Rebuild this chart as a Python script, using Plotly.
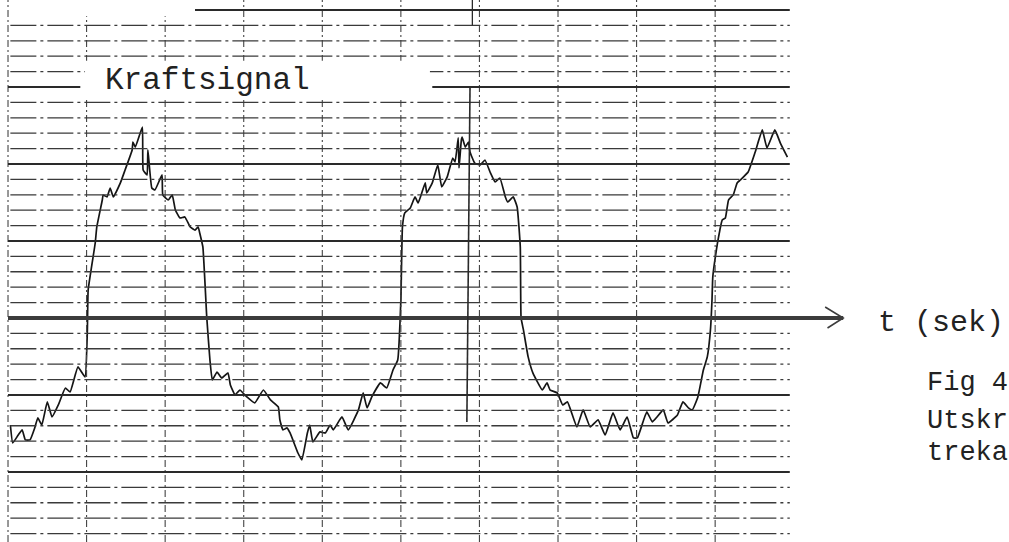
import plotly.graph_objects as go

# Signal trace (t in grid divisions, F in small grid divisions; 0 = time axis)
t_sig = [
    0.03, 0.06, 0.13, 0.18, 0.22, 0.28, 0.34, 0.38, 0.43, 0.50,
    0.56, 0.64, 0.73, 0.79, 0.89, 0.98, 1.01, 1.02, 1.11, 1.13,
    1.20, 1.21, 1.26, 1.30, 1.34, 1.43, 1.49, 1.58, 1.59, 1.62,
    1.71, 1.72, 1.77, 1.78, 1.83, 1.87, 1.96, 1.97, 2.04, 2.09,
    2.13, 2.19, 2.25, 2.32, 2.38, 2.42, 2.44, 2.48, 2.53, 2.57,
    2.60, 2.66, 2.72, 2.80, 2.83, 2.89, 2.95, 3.04, 3.14, 3.25,
    3.34, 3.44, 3.46, 3.50, 3.55, 3.59, 3.69, 3.74, 3.81, 3.84,
    3.88, 3.97, 4.04, 4.10, 4.14, 4.25, 4.33, 4.46, 4.52, 4.57,
    4.63, 4.74, 4.82, 4.90, 4.96, 5.00, 5.02, 5.05, 5.12, 5.18,
    5.22, 5.27, 5.31, 5.33, 5.40, 5.47, 5.52, 5.59, 5.66, 5.69,
    5.73, 5.74, 5.77, 5.78, 5.82, 5.86, 5.88, 5.94, 6.01, 6.07,
    6.14, 6.20, 6.26, 6.33, 6.36, 6.43, 6.48, 6.52, 6.53, 6.56,
    6.62, 6.68, 6.80, 6.86, 6.90, 6.99, 7.06, 7.12, 7.24, 7.32,
    7.41, 7.51, 7.60, 7.70, 7.79, 7.88, 7.96, 8.01, 8.13, 8.20,
    8.26, 8.34, 8.40, 8.52, 8.59, 8.66, 8.71, 8.78, 8.85, 8.90,
    8.94, 8.96, 8.97, 9.03, 9.06, 9.09, 9.13, 9.17, 9.23, 9.28,
    9.32, 9.42, 9.51, 9.60, 9.66, 9.76, 9.83, 9.92,
]
force = [
    -6.95, -8.12, -7.60, -7.27, -7.92, -7.92, -7.14, -6.49, -6.95, -5.45,
    -6.43, -5.65, -4.55, -4.81, -3.18, -3.83, -0.78, 1.82, 4.87, 5.91,
    7.66, 7.99, 7.86, 8.44, 7.86, 8.77, 9.61, 10.91, 11.43, 11.10,
    12.40, 9.61, 9.29, 10.91, 8.44, 8.31, 9.29, 7.99, 7.66, 7.99,
    7.01, 6.49, 6.56, 5.91, 5.71, 5.91, 5.52, 4.61, 0.00, -2.73,
    -4.03, -3.51, -3.90, -3.57, -4.35, -5.00, -4.68, -5.13, -5.52, -4.68,
    -5.32, -5.78, -6.62, -7.27, -7.14, -7.47, -8.77, -9.22, -7.47, -6.95,
    -8.05, -7.40, -7.47, -6.95, -7.27, -6.43, -7.27, -5.97, -4.87, -5.84,
    -5.13, -4.22, -4.55, -3.38, -2.73, 1.17, 5.91, 6.82, 7.14, 7.86,
    7.47, 8.18, 8.77, 8.12, 8.77, 9.94, 8.51, 9.16, 10.39, 10.13,
    11.69, 9.74, 11.56, 11.75, 11.10, 11.43, 10.78, 10.06, 9.94, 10.26,
    9.42, 8.83, 9.09, 7.86, 7.53, 7.86, 7.21, 4.61, 0.00, -0.78,
    -2.53, -3.57, -4.68, -4.22, -4.68, -4.87, -5.65, -5.45, -7.08, -5.97,
    -7.08, -6.62, -7.60, -6.17, -7.27, -6.43, -7.79, -7.79, -6.10, -6.75,
    -6.43, -5.97, -6.82, -6.30, -5.45, -5.84, -5.97, -5.13, -3.38, -2.53,
    -0.78, 1.17, 2.66, 4.87, 5.71, 6.36, 6.49, 7.66, 7.99, 8.77,
    8.96, 9.48, 10.78, 12.21, 11.04, 12.21, 11.36, 10.45,
]
assert len(t_sig) == len(force)

# Chart-paper grid
grid_x = [0, 1, 2, 3, 4, 5, 6, 7, 8, 9]
grid_y = list(range(-14, 21))
major_every = 5
label_text = "Kraftsignal"
axis_label = "t (sek)"
side_texts = ["Fig 4", "Utskr", "treka"]
side_text_y = [-4.22, -6.66, -8.74]

X_RANGE = [-0.102, 12.74]
Y_RANGE = [-14.55, 20.65]
GRID_END = 9.95
INK = "#2a2a2a"
FONT = "Liberation Mono, Courier New, monospace"

shapes = []
# vertical dashed grid lines
for gx in grid_x:
    shapes.append(dict(type="line", xref="x", yref="y", x0=gx, x1=gx,
                       y0=Y_RANGE[0], y1=Y_RANGE[1],
                       line=dict(color="#444", width=1.1, dash="7px,3px,2px,3px")))
# horizontal lines
for gy in grid_y:
    if gy == 0:
        continue
    if gy % major_every == 0:
        x0 = 2.38 if gy == 20 else 0
        if gy == 15:
            shapes.append(dict(type="line", xref="x", yref="y", x0=0, x1=0.92,
                               y0=gy, y1=gy, line=dict(color=INK, width=2)))
            shapes.append(dict(type="line", xref="x", yref="y", x0=5.40, x1=GRID_END,
                               y0=gy, y1=gy, line=dict(color=INK, width=2)))
        else:
            shapes.append(dict(type="line", xref="x", yref="y", x0=x0, x1=GRID_END,
                               y0=gy, y1=gy, line=dict(color=INK, width=2)))
    else:
        shapes.append(dict(type="line", xref="x", yref="y", x0=0.03, x1=GRID_END,
                           y0=gy, y1=gy,
                           line=dict(color="#3a3a3a", width=1.3, dash="26px,4px,3px,4px")))

# white blank areas (label box and top-left)
shapes.append(dict(type="rect", xref="x", yref="y", x0=0.98, x1=5.37, y0=14.25, y1=16.7,
                   fillcolor="white", line=dict(width=0)))
shapes.append(dict(type="rect", xref="x", yref="y", x0=0.05, x1=2.36, y0=19.6, y1=Y_RANGE[1],
                   fillcolor="white", line=dict(width=0)))

# time axis with arrow
shapes.append(dict(type="line", xref="x", yref="y", x0=0, x1=10.63, y0=0, y1=0,
                   line=dict(color="#3c3c3c", width=4)))
shapes.append(dict(type="path", xref="x", yref="y",
                   path="M 10.40 0.71 L 10.63 0 L 10.43 -0.65",
                   line=dict(color="#3c3c3c", width=1.6)))
# marker line on the recording
shapes.append(dict(type="line", xref="x", yref="y", x0=5.88, x1=5.84, y0=14.94, y1=-6.75,
                   line=dict(color=INK, width=1.6)))
shapes.append(dict(type="line", xref="x", yref="y", x0=5.91, x1=5.91, y0=19.0, y1=Y_RANGE[1],
                   line=dict(color=INK, width=1.3)))

fig = go.Figure()
fig.add_trace(go.Scatter(x=t_sig, y=force, mode="lines",
                         line=dict(color="#151515", width=1.7, shape="spline", smoothing=0.35),
                         showlegend=False, hoverinfo="skip"))

annotations = [
    dict(x=1.21, y=15.45, xref="x", yref="y", text=label_text, showarrow=False,
         xanchor="left", yanchor="middle", font=dict(family=FONT, size=31, color="#222")),
    dict(x=11.05, y=-0.32, xref="x", yref="y", text=axis_label, showarrow=False,
         xanchor="left", yanchor="middle", font=dict(family=FONT, size=30, color="#222")),
]
for txt, yy in zip(side_texts, side_text_y):
    annotations.append(dict(x=11.67, y=yy, xref="x", yref="y", text=txt, showarrow=False,
                            xanchor="left", yanchor="middle",
                            font=dict(family=FONT, size=27, color="#222")))

fig.update_layout(
    width=1009, height=542,
    margin=dict(l=0, r=0, t=0, b=0),
    paper_bgcolor="white", plot_bgcolor="white",
    xaxis=dict(range=X_RANGE, visible=False, fixedrange=True),
    yaxis=dict(range=Y_RANGE, visible=False, fixedrange=True),
    shapes=shapes,
    annotations=annotations,
    showlegend=False,
)
fig.write_html("out.html")
